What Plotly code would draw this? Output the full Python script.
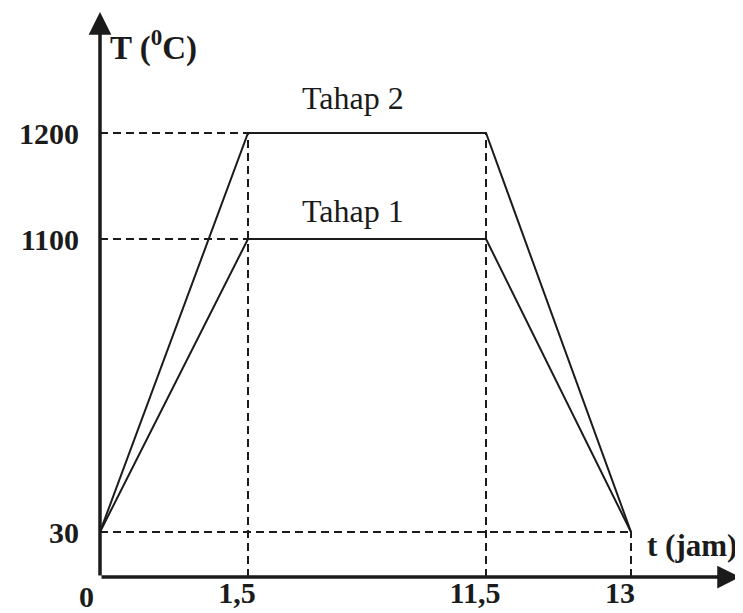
import numpy as np
import plotly.graph_objects as go

# ---- data (values as printed on the schematic) ----
time_h = [0, 1.5, 11.5, 13]                 # t (jam)
tahap1_temp = [30, 1100, 1100, 30]          # Tahap 1, T (°C)
tahap2_temp = [30, 1200, 1200, 30]          # Tahap 2, T (°C)
x_tick_vals = [1.5, 11.5, 13]
x_tick_text = ["1,5", "11,5", "13"]
y_tick_vals = [30, 1100, 1200]
y_tick_text = ["30", "1100", "1200"]

# ---- schematic (not-to-scale) axis scales: piecewise linear ----
X_BREAKS = [0, 1.5, 11.5, 13, 17.5]
X_DISP = [0, 148, 386, 531, 640]
Y_BREAKS = [0, 30, 1100, 1200, 1400]
Y_DISP = [0, 45, 338, 444, 565]


def sx(v):
    return np.interp(v, X_BREAKS, X_DISP)


def sy(v):
    return np.interp(v, Y_BREAKS, Y_DISP)


INK = "#1b1b1b"
SERIF = "Liberation Serif, Times New Roman, serif"

fig = go.Figure()

# dashed guide lines derived from the data
t_up, t_down, t_end = time_h[1], time_h[2], time_h[3]
t_base = tahap1_temp[0]
peak_max = max(tahap2_temp)
guides = []
for peak in (max(tahap1_temp), max(tahap2_temp)):
    guides.append(([0, t_up], [peak, peak]))
guides.append(([t_up, t_up], [0, peak_max]))
guides.append(([t_down, t_down], [0, peak_max]))
guides.append(([0, t_end], [t_base, t_base]))
guides.append(([t_end, t_end], [0, t_base]))
for gx, gy in guides:
    fig.add_trace(go.Scatter(
        x=sx(gx), y=sy(gy), mode="lines",
        line=dict(color=INK, width=2, dash="8px,5px"),
        hoverinfo="skip", showlegend=False))

# the two heating profiles
for name, temps in (("Tahap 1", tahap1_temp), ("Tahap 2", tahap2_temp)):
    fig.add_trace(go.Scatter(
        x=sx(time_h), y=sy(temps), mode="lines", name=name,
        line=dict(color=INK, width=2), showlegend=False))

annotations = []
# axis arrows
annotations.append(dict(x=640, y=0, ax=0, ay=0, xref="x", yref="y",
                        axref="x", ayref="y", showarrow=True, arrowhead=2,
                        arrowsize=1.3, arrowwidth=3.5, arrowcolor=INK,
                        standoff=0, startstandoff=0, text=""))
annotations.append(dict(x=0, y=565, ax=0, ay=0, xref="x", yref="y",
                        axref="x", ayref="y", showarrow=True, arrowhead=2,
                        arrowsize=1.3, arrowwidth=3.5, arrowcolor=INK,
                        standoff=0, startstandoff=0, text=""))
# origin label
annotations.append(dict(x=sx(0), y=0, xref="x", yref="y", text="<b>0</b>",
                        showarrow=False, xshift=-14, yshift=-19,
                        font=dict(family=SERIF, size=30, color=INK)))
# axis titles
annotations.append(dict(x=8, y=532, xref="x", yref="y", text="<b>T (<sup>0</sup>C)</b>",
                        showarrow=False, xanchor="left", yanchor="middle",
                        font=dict(family=SERIF, size=33, color=INK)))
annotations.append(dict(x=545, y=32, xref="x", yref="y", text="<b>t (jam)</b>",
                        showarrow=False, xanchor="left", yanchor="middle",
                        font=dict(family=SERIF, size=31, color=INK)))
# series labels
annotations.append(dict(x=sx(5.9), y=sy(max(tahap2_temp)), xref="x", yref="y",
                        text="Tahap 2", showarrow=False, yshift=35,
                        font=dict(family=SERIF, size=32, color=INK)))
annotations.append(dict(x=sx(5.9), y=sy(max(tahap1_temp)), xref="x", yref="y",
                        text="Tahap 1", showarrow=False, yshift=28,
                        font=dict(family=SERIF, size=32, color=INK)))

# the page body has an 8px default margin, so the figure is 8px smaller
fig.update_layout(
    width=735, height=605,
    margin=dict(l=92, r=3, t=4, b=36, autoexpand=False),
    paper_bgcolor="white", plot_bgcolor="white",
    annotations=annotations,
    xaxis=dict(range=[0, 640], showgrid=False, zeroline=False, showline=False,
               automargin=False,
               tickmode="array", tickvals=sx(x_tick_vals), ticktext=x_tick_text,
               ticks="", ticklabelstandoff=-5, ticklabelshift=-11,
               tickfont=dict(family=SERIF, size=30, color=INK, weight="bold"),
               fixedrange=True),
    yaxis=dict(range=[0, 565], showgrid=False, zeroline=False, showline=False,
               automargin=False,
               tickmode="array", tickvals=sy(y_tick_vals), ticktext=y_tick_text,
               ticks="", ticklabelstandoff=20,
               tickfont=dict(family=SERIF, size=30, color=INK, weight="bold"),
               fixedrange=True),
    showlegend=False,
)

fig.write_html("out.html")
